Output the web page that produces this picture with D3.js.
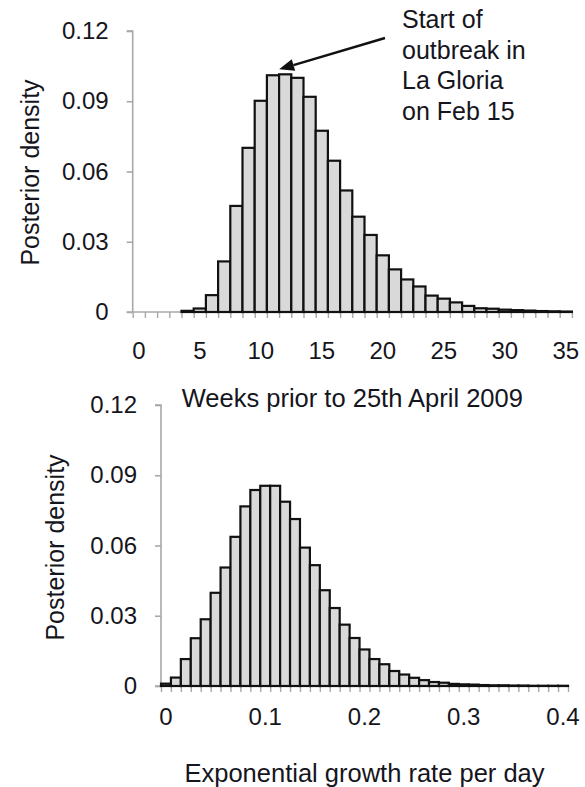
<!DOCTYPE html>
<html>
<head>
<meta charset="utf-8">
<script src="https://cdn.jsdelivr.net/npm/d3@7"></script>
<style>
  html, body { margin: 0; padding: 0; background: #fff; }
  svg { display: block; font-family: "Liberation Sans", Arial, Helvetica, sans-serif; }
</style>
</head>
<body>
<script>
// Posterior of outbreak start time (weeks before 25 April 2009)
const weekCategories = d3.range(0, 36);
const weekDensity = [
  0, 0, 0, 0, 0.0005, 0.0015, 0.0072, 0.0216, 0.0453, 0.0701,
  0.0902, 0.1011, 0.1015, 0.1000, 0.0919, 0.0774, 0.0646, 0.0519, 0.0407, 0.0329,
  0.0242, 0.0182, 0.0139, 0.0109, 0.0070, 0.0057, 0.0041, 0.0026, 0.0016, 0.0014,
  0.0010, 0.0008, 0.0006, 0.0004, 0.0003, 0.0002
];
const weekTickLabels = ["0", "5", "10", "15", "20", "25", "30", "35"];

// Posterior of exponential growth rate per day
const rateCategories = d3.range(0, 41).map(i => +(i * 0.01).toFixed(2));
const rateDensity = [
  0.0010, 0.0036, 0.0115, 0.0204, 0.0285, 0.0398, 0.0506, 0.0637, 0.0767, 0.0837,
  0.0855, 0.0855, 0.0787, 0.0713, 0.0591, 0.0516, 0.0409, 0.0333, 0.0262, 0.0205,
  0.0156, 0.0115, 0.0093, 0.0064, 0.0049, 0.0035, 0.0025, 0.0017, 0.0014, 0.0009,
  0.0007, 0.0006, 0.0004, 0.0003, 0.0003, 0.0002, 0.0002, 0.0001, 0.0001, 0.0001, 0.0001
];
const rateTickLabels = ["0", "0.1", "0.2", "0.3", "0.4"];

const yTicks = [0, 0.03, 0.06, 0.09, 0.12];
const yTickLabels = ["0", "0.03", "0.06", "0.09", "0.12"];

const W = 585, H = 787;
const svg = d3.select("body").append("svg").attr("width", W).attr("height", H);

const textColor = "#151520";
const axisColor = "#a8a8a8";

function panel(cfg) {
  const n = cfg.categories.length;
  const x = d3.scaleBand().domain(cfg.categories).range([cfg.left, cfg.right]).padding(0);
  const xEdge = d3.scaleLinear().domain([0, n]).range([cfg.left, cfg.right]);
  const y = d3.scaleLinear().domain([0, 0.12]).range([cfg.bottom, cfg.top]);
  const g = svg.append("g");

  // y axis
  const yAxis = g.append("g")
    .attr("transform", `translate(${cfg.left},0)`)
    .call(d3.axisLeft(y).tickValues(yTicks).tickSize(6).tickFormat((d, i) => yTickLabels[i]).tickPadding(18));
  yAxis.select(".domain").attr("stroke", axisColor).attr("stroke-width", 1.6)
    .attr("d", `M-6,${y(0.12)}H0V${y(0)}`);
  yAxis.selectAll(".tick line").attr("stroke", axisColor).attr("stroke-width", 1.6);
  yAxis.selectAll(".tick text").attr("fill", textColor).attr("font-size", 24)
    .attr("font-family", "Liberation Sans, Arial, sans-serif");

  // x axis: minor ticks at every category edge
  const xAxis = g.append("g")
    .attr("transform", `translate(0,${cfg.bottom})`)
    .call(d3.axisBottom(xEdge).tickValues(d3.range(0, n + 1)).tickSize(6).tickFormat(""));
  xAxis.select(".domain").attr("stroke", axisColor).attr("stroke-width", 1.6)
    .attr("d", `M${cfg.left - 6},0H${cfg.right}`);
  xAxis.selectAll(".tick line").attr("stroke", axisColor).attr("stroke-width", 1.4);

  // x tick labels under selected categories
  const labelAxis = g.append("g")
    .attr("transform", `translate(0,${cfg.bottom})`)
    .call(d3.axisBottom(x).tickValues(cfg.labelValues).tickSize(0).tickPadding(cfg.labelPad)
      .tickFormat((d, i) => cfg.tickLabels[i]));
  labelAxis.select(".domain").remove();
  labelAxis.selectAll(".tick text").attr("fill", textColor).attr("font-size", 24)
    .attr("font-family", "Liberation Sans, Arial, sans-serif");

  // bars
  g.append("g").selectAll("rect")
    .data(cfg.values.map((v, i) => ({ c: cfg.categories[i], v })).filter(d => d.v > 0))
    .join("rect")
    .attr("x", d => x(d.c))
    .attr("width", x.bandwidth())
    .attr("y", d => y(d.v))
    .attr("height", d => y(0) - y(d.v))
    .attr("fill", "#d9d9d9")
    .attr("stroke", "#111")
    .attr("stroke-width", 2.2);

  // y title
  svg.append("text")
    .attr("transform", `translate(${cfg.yTitleX},${(cfg.top + cfg.bottom) / 2 + cfg.yTitleDy}) rotate(-90)`)
    .attr("text-anchor", "middle")
    .attr("font-size", 25)
    .attr("fill", textColor)
    .text("Posterior density");

  // x title, centred on the plot area
  svg.append("text")
    .attr("x", (cfg.left + cfg.right) / 2)
    .attr("y", cfg.xTitleY)
    .attr("text-anchor", "middle")
    .attr("font-size", 25.5)
    .attr("fill", textColor)
    .text(cfg.xTitle);

  return { x, y };
}

const weekPanel = panel({
  categories: weekCategories, values: weekDensity,
  labelValues: [0, 5, 10, 15, 20, 25, 30, 35], tickLabels: weekTickLabels,
  left: 132.7, right: 571.9, top: 31, bottom: 312, labelPad: 30,
  yTitleX: 39, yTitleDy: 1,
  xTitle: "Weeks prior to 25th April 2009", xTitleY: 407
});

panel({
  categories: rateCategories, values: rateDensity,
  labelValues: [0, 0.1, 0.2, 0.3, 0.4], tickLabels: rateTickLabels,
  left: 161, right: 568, top: 405, bottom: 686, labelPad: 22,
  yTitleX: 64, yTitleDy: 2,
  xTitle: "Exponential growth rate per day", xTitleY: 782
});

// annotation: start of the La Gloria outbreak
const tipX = weekPanel.x(12);
const tipY = weekPanel.y(d3.max(weekDensity)) - 5;
const tailX = 385, tailY = 38;
const ang = Math.atan2(tipY - tailY, tipX - tailX);
const headLen = 15, headW = 6;
const bx = tipX - headLen * Math.cos(ang), by = tipY - headLen * Math.sin(ang);
svg.append("line")
  .attr("x1", tailX).attr("y1", tailY).attr("x2", bx).attr("y2", by)
  .attr("stroke", "#111").attr("stroke-width", 2.4);
svg.append("path")
  .attr("d", `M${tipX},${tipY}L${bx + headW * Math.sin(ang)},${by - headW * Math.cos(ang)}L${bx - headW * Math.sin(ang)},${by + headW * Math.cos(ang)}Z`)
  .attr("fill", "#111");

const noteLines = ["Start of", "outbreak in", "La Gloria", "on Feb 15"];
svg.append("text")
  .attr("x", 402).attr("y", 28)
  .attr("font-size", 25).attr("fill", textColor)
  .selectAll("tspan").data(noteLines).join("tspan")
  .attr("x", 402).attr("dy", (d, i) => i === 0 ? 0 : 30.5)
  .text(d => d);
</script>
</body>
</html>
